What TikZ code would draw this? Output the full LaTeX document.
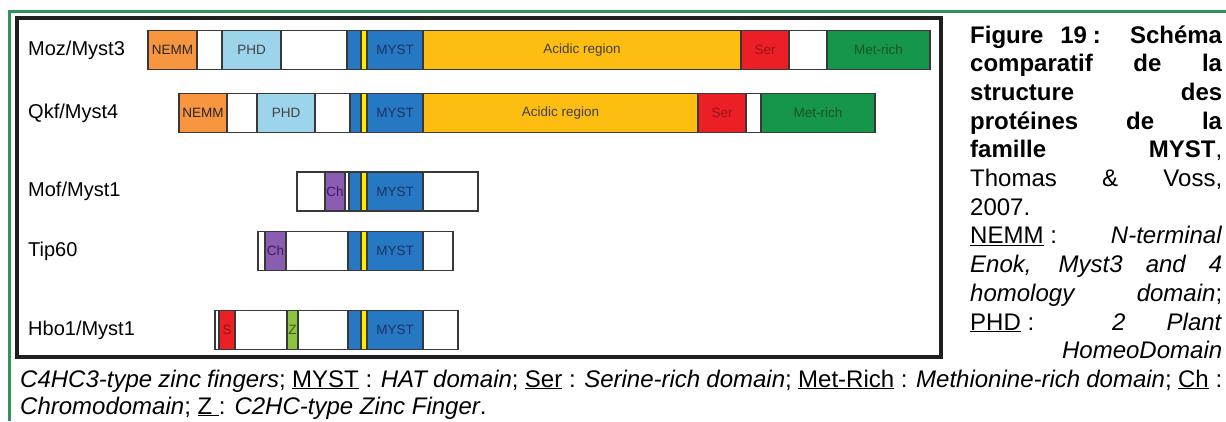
\documentclass[tikz,border=0pt]{standalone}
\usepackage{fontspec}
\setmainfont{Liberation Sans}
\definecolor{bordergreen}{RGB}{46,148,94}
\definecolor{nemmorange}{RGB}{247,150,62}
\definecolor{phdblue}{RGB}{156,212,236}
\definecolor{mystblue}{RGB}{38,120,194}
\definecolor{znyellow}{RGB}{255,236,0}
\definecolor{acidgold}{RGB}{253,189,17}
\definecolor{serred}{RGB}{236,30,38}
\definecolor{metgreen}{RGB}{22,150,74}
\definecolor{chpurple}{RGB}{138,92,178}
\definecolor{zgreen}{RGB}{140,196,64}
\definecolor{mysttext}{RGB}{28,50,100}
\definecolor{sertext}{RGB}{150,22,22}
\definecolor{mettext}{RGB}{20,85,40}
\definecolor{chtext}{RGB}{60,30,90}
\definecolor{ztext}{RGB}{60,90,20}

\begin{document}
\begin{tikzpicture}[x=1pt,y=-1pt]
		\tikzset{segstyle/.style={draw=black!78, line width=1.6pt},
			seglabel/.style={font=\fontsize{13.5}{14}\selectfont, inner sep=0pt},
			protname/.style={anchor=west, font=\fontsize{20}{22}\selectfont, inner sep=0pt},
			captext/.style={anchor=base west, inner sep=0pt, align=justify}}
		\useasboundingbox (0,0) rectangle (1226,421);
		
		% page border and figure frame
		\draw[bordergreen, line width=3pt] (9,421) -- (9,11) -- (1226,11);
		\draw[black!88, line width=3.5pt, fill=white] (17,18) rectangle (941,357);
		
		\node[protname] (namemoz) at (28,50) {Moz/Myst3};
		\node[protname] (nameqkf) at (28,113) {Qkf/Myst4};
		\node[protname] (namemof) at (28,191.5) {Mof/Myst1};
		\node[protname] (nametip) at (28,251) {Tip60};
		\node[protname] (namehbo) at (28,330) {Hbo1/Myst1};
		
		% white backbones
		\draw[segstyle, fill=white] (148,30.5) rectangle (930,69.5);
		\draw[segstyle, fill=white] (179,93.5) rectangle (875,132.5);
		\draw[segstyle, fill=white] (297,172) rectangle (478,211);
		\draw[segstyle, fill=white] (258,231.5) rectangle (453,270.5);
		\draw[segstyle, fill=white] (215,310.5) rectangle (458,349.5);
		
		% blue + yellow bits before MYST
		\foreach \ya/\xa in {30.5/347, 93.5/350, 172/349, 231.5/348, 310.5/348}
		{\draw[segstyle, fill=mystblue] (\xa,\ya) rectangle (361,\ya+39);
			\draw[segstyle, fill=znyellow] (361,\ya) rectangle (367,\ya+39);}
		
		% Moz/Myst3
		\foreach \xa/\xb/\col/\tc/\lab in {148/197/nemmorange/black!85/NEMM, 222/281/phdblue/black!75/PHD, 367/423/mystblue/mysttext/MYST, 423/741/acidgold/black!75/Acidic region, 741/789/serred/sertext/Ser, 827/930/metgreen/mettext/Met-rich}
		{\draw[segstyle, fill=\col] (\xa,30.5) rectangle (\xb,69.5);
			\node[seglabel, text=\tc] (moz\xa) at ({(\xa+\xb)/2},50) {\lab};}
		
		% Qkf/Myst4
		\foreach \xa/\xb/\col/\tc/\lab in {179/227/nemmorange/black!85/NEMM, 257/315/phdblue/black!75/PHD, 367/423/mystblue/mysttext/MYST, 423/698/acidgold/black!75/Acidic region, 698/746/serred/sertext/Ser, 761/875/metgreen/mettext/Met-rich}
		{\draw[segstyle, fill=\col] (\xa,93.5) rectangle (\xb,132.5);
			\node[seglabel, text=\tc] (qkf\xa) at ({(\xa+\xb)/2},113) {\lab};}
		
		% Mof/Myst1
		\foreach \xa/\xb/\col/\tc/\lab in {325/345/chpurple/chtext/Ch, 367/423/mystblue/mysttext/MYST}
		{\draw[segstyle, fill=\col] (\xa,172) rectangle (\xb,211);
			\node[seglabel, text=\tc] (mof\xa) at ({(\xa+\xb)/2},191.5) {\lab};}
		
		% Tip60
		\foreach \xa/\xb/\col/\tc/\lab in {265/286/chpurple/chtext/Ch, 367/423/mystblue/mysttext/MYST}
		{\draw[segstyle, fill=\col] (\xa,231.5) rectangle (\xb,270.5);
			\node[seglabel, text=\tc] (tip\xa) at ({(\xa+\xb)/2},251) {\lab};}
		
		% Hbo1/Myst1
		\foreach \xa/\xb/\col/\tc/\lab in {219/235/serred/sertext/S, 287/298/zgreen/ztext/Z, 367/423/mystblue/mysttext/MYST}
		{\draw[segstyle, fill=\col] (\xa,310.5) rectangle (\xb,349.5);
			\node[seglabel, text=\tc] (hbo\xa) at ({(\xa+\xb)/2},330) {\lab};}
		
		% caption wrapped round the figure
		\node[captext, text width=252pt, font=\fontsize{24}{28.7}\selectfont] (caption) at (970,43)
		{\tolerance=10000 \hyphenpenalty=10000
			\textbf{Figure 19\hspace{.25em}: Schéma}\linebreak \textbf{comparatif de la}\linebreak \textbf{structure des}\linebreak
			\textbf{protéines de la}\linebreak \textbf{famille MYST}, \linebreak Thomas \& Voss,\linebreak 2007.\newline
			\underline{NEMM}\hspace{.28em}: \textit{N-terminal}\linebreak \textit{Enok, Myst3 and 4}\linebreak \textit{homology domain};\linebreak
			\underline{PHD}\hspace{.28em}: \textit{2 Plant}\linebreak \hspace*{\fill}\textit{HomeoDomain}};
		\node[captext, text width=1202pt, font=\fontsize{24}{27}\selectfont] (captionend) at (20,387)
		{\tolerance=10000 \hyphenpenalty=10000
			\textit{C4HC3-type zinc fingers}; \underline{MYST}\hspace{.28em}: \textit{HAT domain}; \underline{Ser}\hspace{.28em}: \textit{Serine-rich domain}; \underline{Met-Rich}\hspace{.28em}: \textit{Methionine-rich domain}; \underline{Ch}\hspace{.28em}:\linebreak
			\textit{Chromodomain}; \underline{Z\hspace{.28em}}: \textit{C2HC-type Zinc Finger}.};
		
\end{tikzpicture}
\end{document}
